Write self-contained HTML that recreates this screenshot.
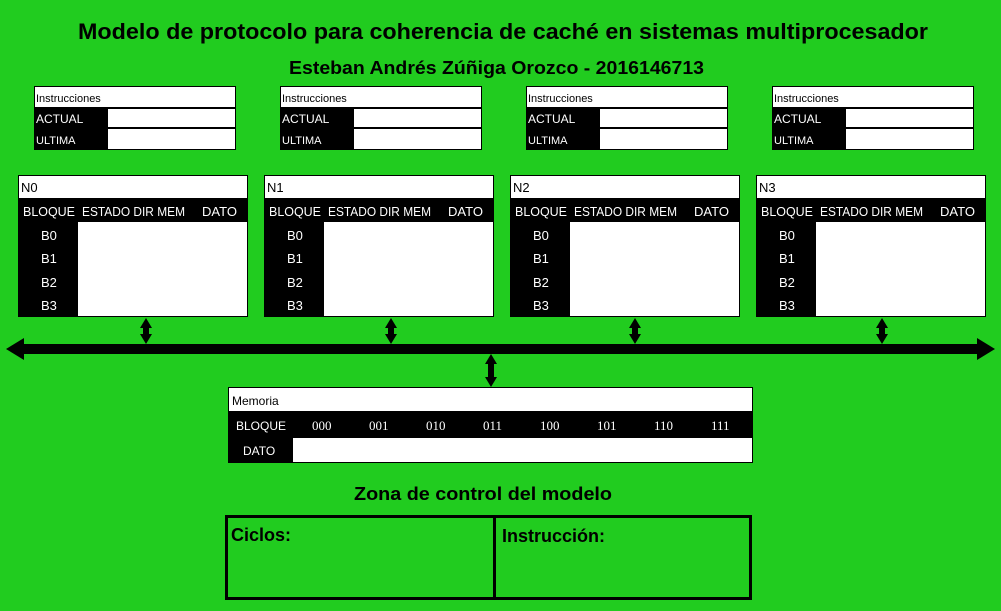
<!DOCTYPE html>
<html><head><meta charset="utf-8"><style>
html,body{margin:0;padding:0;background:#21cc1f;}
svg{display:block;font-family:"Liberation Sans",sans-serif;}
</style></head><body>
<svg width="1001" height="611" viewBox="0 0 1001 611" xmlns="http://www.w3.org/2000/svg">
<rect width="1001" height="611" fill="#21cc1f"/>
<text x="78" y="39" font-size="22" font-weight="bold" textLength="850" lengthAdjust="spacingAndGlyphs">Modelo de protocolo para coherencia de caché en sistemas multiprocesador</text>
<text x="289" y="74" font-size="18" font-weight="bold" textLength="415" lengthAdjust="spacingAndGlyphs">Esteban Andrés Zúñiga Orozco - 2016146713</text>

<g font-size="11">
<g transform="translate(34,86)">
<rect x="0" y="0" width="202" height="64" fill="#000"/>
<rect x="1" y="1" width="200" height="20" fill="#fff"/>
<rect x="74" y="23" width="127" height="18" fill="#fff"/>
<rect x="74" y="43" width="127" height="20" fill="#fff"/>
<text x="2" y="16">Instrucciones</text>
<text x="2" y="37" fill="#fff" font-size="12">ACTUAL</text>
<text x="2" y="58" fill="#fff" font-size="11">ULTIMA</text>
</g>
<g transform="translate(280,86)">
<rect x="0" y="0" width="202" height="64" fill="#000"/>
<rect x="1" y="1" width="200" height="20" fill="#fff"/>
<rect x="74" y="23" width="127" height="18" fill="#fff"/>
<rect x="74" y="43" width="127" height="20" fill="#fff"/>
<text x="2" y="16">Instrucciones</text>
<text x="2" y="37" fill="#fff" font-size="12">ACTUAL</text>
<text x="2" y="58" fill="#fff" font-size="11">ULTIMA</text>
</g>
<g transform="translate(526,86)">
<rect x="0" y="0" width="202" height="64" fill="#000"/>
<rect x="1" y="1" width="200" height="20" fill="#fff"/>
<rect x="74" y="23" width="127" height="18" fill="#fff"/>
<rect x="74" y="43" width="127" height="20" fill="#fff"/>
<text x="2" y="16">Instrucciones</text>
<text x="2" y="37" fill="#fff" font-size="12">ACTUAL</text>
<text x="2" y="58" fill="#fff" font-size="11">ULTIMA</text>
</g>
<g transform="translate(772,86)">
<rect x="0" y="0" width="202" height="64" fill="#000"/>
<rect x="1" y="1" width="200" height="20" fill="#fff"/>
<rect x="74" y="23" width="127" height="18" fill="#fff"/>
<rect x="74" y="43" width="127" height="20" fill="#fff"/>
<text x="2" y="16">Instrucciones</text>
<text x="2" y="37" fill="#fff" font-size="12">ACTUAL</text>
<text x="2" y="58" fill="#fff" font-size="11">ULTIMA</text>
</g>
</g>

<g font-size="13">
<g transform="translate(18,175)">
<rect width="230" height="142" fill="#000"/>
<rect x="1" y="1" width="228" height="22" fill="#fff"/>
<rect x="60" y="47" width="169" height="94" fill="#fff"/>
<text x="3" y="17">N0</text>
<g fill="#fff"><text x="5" y="41" textLength="52" lengthAdjust="spacingAndGlyphs">BLOQUE</text><text x="64" y="41" textLength="103" lengthAdjust="spacingAndGlyphs">ESTADO DIR MEM</text><text x="184" y="41" textLength="35" lengthAdjust="spacingAndGlyphs">DATO</text>
<text x="23" y="65">B0</text><text x="23" y="88">B1</text><text x="23" y="112">B2</text><text x="23" y="135">B3</text></g>
</g>
<g transform="translate(264,175)">
<rect width="230" height="142" fill="#000"/>
<rect x="1" y="1" width="228" height="22" fill="#fff"/>
<rect x="60" y="47" width="169" height="94" fill="#fff"/>
<text x="3" y="17">N1</text>
<g fill="#fff"><text x="5" y="41" textLength="52" lengthAdjust="spacingAndGlyphs">BLOQUE</text><text x="64" y="41" textLength="103" lengthAdjust="spacingAndGlyphs">ESTADO DIR MEM</text><text x="184" y="41" textLength="35" lengthAdjust="spacingAndGlyphs">DATO</text>
<text x="23" y="65">B0</text><text x="23" y="88">B1</text><text x="23" y="112">B2</text><text x="23" y="135">B3</text></g>
</g>
<g transform="translate(510,175)">
<rect width="230" height="142" fill="#000"/>
<rect x="1" y="1" width="228" height="22" fill="#fff"/>
<rect x="60" y="47" width="169" height="94" fill="#fff"/>
<text x="3" y="17">N2</text>
<g fill="#fff"><text x="5" y="41" textLength="52" lengthAdjust="spacingAndGlyphs">BLOQUE</text><text x="64" y="41" textLength="103" lengthAdjust="spacingAndGlyphs">ESTADO DIR MEM</text><text x="184" y="41" textLength="35" lengthAdjust="spacingAndGlyphs">DATO</text>
<text x="23" y="65">B0</text><text x="23" y="88">B1</text><text x="23" y="112">B2</text><text x="23" y="135">B3</text></g>
</g>
<g transform="translate(756,175)">
<rect width="230" height="142" fill="#000"/>
<rect x="1" y="1" width="228" height="22" fill="#fff"/>
<rect x="60" y="47" width="169" height="94" fill="#fff"/>
<text x="3" y="17">N3</text>
<g fill="#fff"><text x="5" y="41" textLength="52" lengthAdjust="spacingAndGlyphs">BLOQUE</text><text x="64" y="41" textLength="103" lengthAdjust="spacingAndGlyphs">ESTADO DIR MEM</text><text x="184" y="41" textLength="35" lengthAdjust="spacingAndGlyphs">DATO</text>
<text x="23" y="65">B0</text><text x="23" y="88">B1</text><text x="23" y="112">B2</text><text x="23" y="135">B3</text></g>
</g>
</g>

<rect x="20" y="344" width="962" height="10" fill="#000"/>
<polygon points="6,349 24,338 24,360" fill="#000"/>
<polygon points="995,349 977,338 977,360" fill="#000"/>
<g fill="#000">
<polygon points="146,318 152,328 149,328 149,334 152,334 146,344 140,334 143,334 143,328 140,328"/>
<polygon points="391,318 397,328 394,328 394,334 397,334 391,344 385,334 388,334 388,328 385,328"/>
<polygon points="635,318 641,328 638,328 638,334 641,334 635,344 629,334 632,334 632,328 629,328"/>
<polygon points="882,318 888,328 885,328 885,334 888,334 882,344 876,334 879,334 879,328 876,328"/>
<polygon points="491,354 497,364 494,364 494,377 497,377 491,387 485,377 488,377 488,364 485,364"/>
</g>

<g transform="translate(228,387)" font-size="12">
<rect width="525" height="76" fill="#000"/>
<rect x="1" y="1" width="523" height="23" fill="#fff"/>
<rect x="65" y="51" width="459" height="24" fill="#fff"/>
<text x="4" y="18">Memoria</text>
<text x="8" y="43" fill="#fff">BLOQUE</text>
<g fill="#fff" font-family="Liberation Serif,serif" font-size="13">
<text x="84" y="43">000</text><text x="141" y="43">001</text><text x="198" y="43">010</text><text x="255" y="43">011</text>
<text x="312" y="43">100</text><text x="369" y="43">101</text><text x="426" y="43">110</text><text x="483" y="43">111</text>
</g>
<text x="15" y="68" fill="#fff">DATO</text>
</g>

<text x="483" y="500" font-size="18" font-weight="bold" text-anchor="middle" textLength="258" lengthAdjust="spacingAndGlyphs">Zona de control del modelo</text>
<rect x="226.5" y="516.5" width="524" height="82" fill="none" stroke="#000" stroke-width="3"/>
<line x1="494.5" y1="516" x2="494.5" y2="599" stroke="#000" stroke-width="3"/>
<text x="231" y="541" font-size="18" font-weight="bold">Ciclos:</text>
<text x="502" y="542" font-size="18" font-weight="bold">Instrucción:</text>
</svg>
</body></html>
